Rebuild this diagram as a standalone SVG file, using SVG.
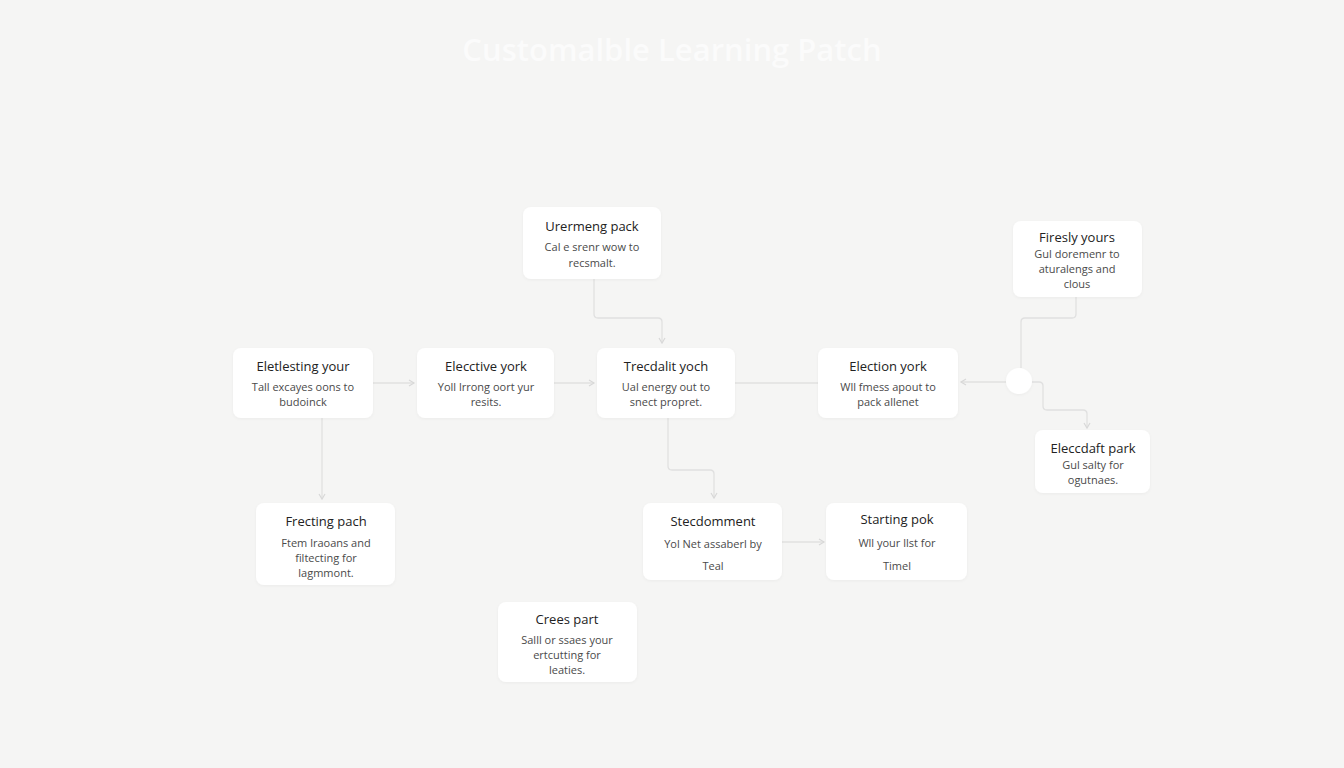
<svg xmlns="http://www.w3.org/2000/svg" width="1344" height="768" viewBox="0 0 1344 768">
<defs>
<filter id="sh" x="-10%" y="-10%" width="120%" height="130%">
<feDropShadow dx="0" dy="1" stdDeviation="1.5" flood-color="#000" flood-opacity="0.04"/>
</filter>
<marker id="ar" markerWidth="8" markerHeight="8" refX="6" refY="4" orient="auto" markerUnits="userSpaceOnUse">
<path d="M1,1 L6,4 L1,7" fill="none" stroke="#d8d8d8" stroke-width="1.2"/>
</marker>
<style>
.n{fill:#ffffff;filter:url(#sh)}
.t{font-family:"Open Sans","Noto Sans",sans-serif;font-size:13px;fill:#222;text-anchor:middle}
.d{font-family:"Open Sans","Noto Sans",sans-serif;font-size:11px;fill:#4a4a4a;text-anchor:middle}
.c{fill:none;stroke:#e0e0e0;stroke-width:1.3;stroke-linejoin:round}
.ttl{font-family:"Open Sans","Noto Sans",sans-serif;font-size:31px;font-weight:600;fill:#fbfbfb;text-anchor:middle}
</style>
</defs>
<rect width="1344" height="768" fill="#f5f5f4"/>
<text class="ttl" x="672" y="61">Customalble Learning Patch</text>
<g id="connectors">
<path class="c" d="M594,279 V314 Q594,318 598,318 H658 Q662,318 662,322 V343" marker-end="url(#ar)"/>
<path class="c" d="M373,383 H414" marker-end="url(#ar)"/>
<path class="c" d="M554,383 H594" marker-end="url(#ar)"/>
<path class="c" d="M735,383 H818"/>
<path class="c" d="M1006,382 H961" marker-end="url(#ar)"/>
<path class="c" d="M1076,297 V314 Q1076,318 1072,318 H1025 Q1021,318 1021,322 V368"/>
<path class="c" d="M1032,382 H1039 Q1043,382 1043,386 V406 Q1043,410 1047,410 H1083 Q1087,410 1087,414 V428" marker-end="url(#ar)"/>
<path class="c" d="M322,418 V499" marker-end="url(#ar)"/>
<path class="c" d="M668,418 V466 Q668,470 672,470 H710 Q714,470 714,474 V498" marker-end="url(#ar)"/>
<path class="c" d="M782,542 H824" marker-end="url(#ar)"/>
</g>
<g id="n1"><rect class="n" x="523" y="207" width="138" height="72" rx="8"/>
<text class="t" x="592" y="231">Urermeng pack</text>
<text class="d" x="592" y="251">Cal e srenr wow to</text>
<text class="d" x="592" y="267">recsmalt.</text></g>
<g id="n2"><rect class="n" x="233" y="348" width="140" height="70" rx="8"/>
<text class="t" x="303" y="371">Eletlesting your</text>
<text class="d" x="303" y="391">Tall excayes oons to</text>
<text class="d" x="303" y="406">budoinck</text></g>
<g id="n3"><rect class="n" x="417" y="348" width="137" height="70" rx="8"/>
<text class="t" x="486" y="371">Elecctive york</text>
<text class="d" x="486" y="391">Yoll lrrong oort yur</text>
<text class="d" x="486" y="406">resits.</text></g>
<g id="n4"><rect class="n" x="597" y="348" width="138" height="70" rx="8"/>
<text class="t" x="666" y="371">Trecdalit yoch</text>
<text class="d" x="666" y="391">Ual energy out to</text>
<text class="d" x="666" y="406">snect propret.</text></g>
<g id="n5"><rect class="n" x="818" y="348" width="140" height="70" rx="8"/>
<text class="t" x="888" y="371">Election york</text>
<text class="d" x="888" y="391">Wll fmess apout to</text>
<text class="d" x="888" y="406">pack allenet</text></g>
<g id="n6"><rect class="n" x="1013" y="221" width="129" height="76" rx="8"/>
<text class="t" x="1077" y="242">Firesly yours</text>
<text class="d" x="1077" y="258">Gul doremenr to</text>
<text class="d" x="1077" y="273">aturalengs and</text>
<text class="d" x="1077" y="288">clous</text></g>
<g id="n7"><rect class="n" x="1035" y="430" width="115" height="63" rx="8"/>
<text class="t" x="1093" y="453">Eleccdaft park</text>
<text class="d" x="1093" y="469">Gul salty for</text>
<text class="d" x="1093" y="484">ogutnaes.</text></g>
<g id="n8"><rect class="n" x="256" y="503" width="139" height="82" rx="8"/>
<text class="t" x="326" y="526">Frecting pach</text>
<text class="d" x="326" y="547">Ftem lraoans and</text>
<text class="d" x="326" y="562">filtecting for</text>
<text class="d" x="326" y="577">lagmmont.</text></g>
<g id="n9"><rect class="n" x="643" y="503" width="139" height="77" rx="8"/>
<text class="t" x="713" y="526">Stecdomment</text>
<text class="d" x="713" y="548">Yol Net assaberl by</text>
<text class="d" x="713" y="570">Teal</text></g>
<g id="n10"><rect class="n" x="826" y="503" width="141" height="77" rx="8"/>
<text class="t" x="897" y="524">Starting pok</text>
<text class="d" x="897" y="547">Wll your llst for</text>
<text class="d" x="897" y="570">Timel</text></g>
<g id="n11"><rect class="n" x="498" y="602" width="139" height="80" rx="8"/>
<text class="t" x="567" y="624">Crees part</text>
<text class="d" x="567" y="644">Salll or ssaes your</text>
<text class="d" x="567" y="659">ertcutting for</text>
<text class="d" x="567" y="674">leaties.</text></g>
<g id="hub"><circle cx="1019" cy="381" r="13" fill="#ffffff" filter="url(#sh)"/></g>
</svg>
